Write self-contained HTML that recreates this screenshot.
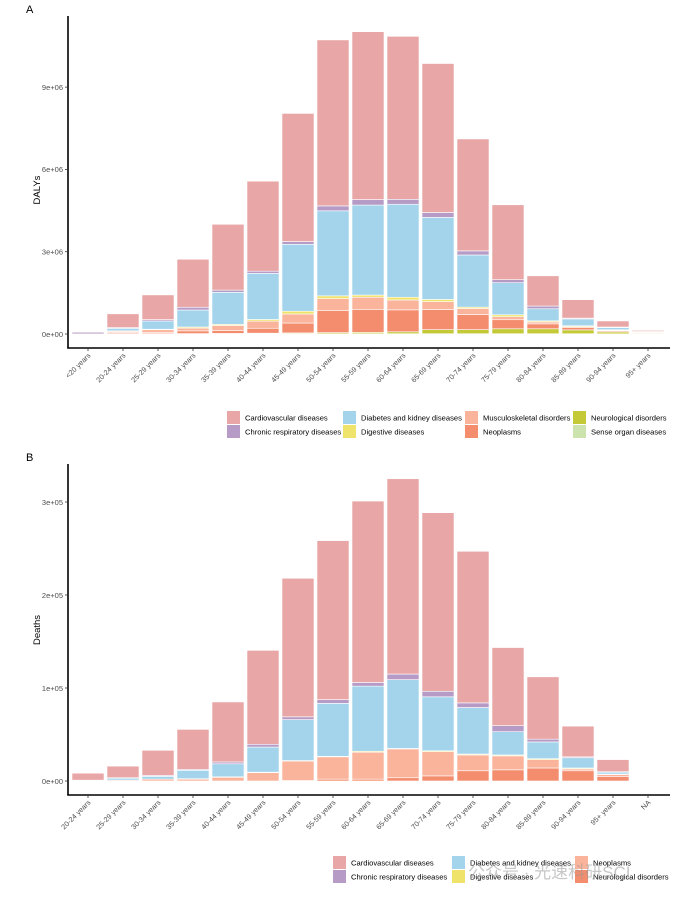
<!DOCTYPE html>
<html><head><meta charset="utf-8"><style>
body{margin:0;background:#fff;width:694px;height:898px;overflow:hidden}
svg{font-family:"Liberation Sans",sans-serif}
</style></head><body>
<svg id="s" width="694" height="898"></svg>
<script>
// ---- Panel A (DALYs, millions) ----
const catsA=["<20 years","20-24 years","25-29 years","30-34 years","35-39 years","40-44 years","45-49 years","50-54 years","55-59 years","60-64 years","65-69 years","70-74 years","75-79 years","80-84 years","85-89 years","90-94 years","95+ years"];
const senseA=[0,0.005,0.005,0.005,0.01,0.01,0.01,0.01,0.01,0.01,0.01,0.01,0.01,0.01,0.01,0.005,0.005];
const neuroA=[0,0.01,0.01,0.01,0.01,0.02,0.03,0.04,0.05,0.07,0.15,0.15,0.18,0.18,0.14,0.07,0.03];
const neoA=[0,0.04,0.04,0.1,0.11,0.18,0.36,0.8,0.84,0.8,0.73,0.55,0.33,0.18,0.08,0.04,0.01];
const muscA=[0,0.04,0.1,0.1,0.18,0.26,0.33,0.44,0.44,0.36,0.29,0.22,0.11,0.07,0.04,0.02,0.01];
const digA=[0,0.02,0.02,0.04,0.04,0.06,0.1,0.1,0.08,0.1,0.08,0.05,0.07,0.04,0.03,0.02,0.005];
const diabA=[0.005,0.09,0.3,0.62,1.17,1.68,2.44,3.1,3.28,3.39,2.99,1.9,1.17,0.44,0.25,0.08,0.02];
const chronA=[0.06,0.03,0.05,0.1,0.08,0.08,0.1,0.18,0.2,0.18,0.18,0.15,0.11,0.1,0.03,0.02,0.01];
const cardA=[0.005,0.5,0.9,1.75,2.4,3.28,4.67,6.05,6.12,5.94,5.43,4.08,2.73,1.1,0.67,0.22,0.04];
const ticksA=[0,3,6,9];
const tickLabA=["0e+00","3e+06","6e+06","9e+06"];
// ---- Panel B (Deaths, 1e5) ----
const catsB=["20-24 years","25-29 years","30-34 years","35-39 years","40-44 years","45-49 years","50-54 years","55-59 years","60-64 years","65-69 years","70-74 years","75-79 years","80-84 years","85-89 years","90-94 years","95+ years","NA"];
const neuroB=[0,0,0,0,0,0,0.005,0.02,0.02,0.035,0.055,0.11,0.12,0.14,0.11,0.05,0];
const neoB=[0.003,0.01,0.02,0.02,0.04,0.09,0.21,0.24,0.29,0.31,0.26,0.17,0.15,0.09,0.02,0.02,0];
const digB=[0,0,0,0.005,0.005,0.005,0.005,0.005,0.01,0.005,0.01,0.01,0.01,0.01,0.01,0.005,0];
const diabB=[0.004,0.02,0.03,0.09,0.14,0.27,0.44,0.57,0.7,0.74,0.58,0.5,0.25,0.18,0.11,0.02,0];
const chronB=[0.002,0.005,0.01,0.01,0.02,0.03,0.03,0.04,0.04,0.06,0.06,0.05,0.065,0.03,0.01,0.005,0];
const cardB=[0.075,0.125,0.27,0.43,0.645,1.01,1.49,1.71,1.95,2.1,1.92,1.63,0.84,0.67,0.33,0.13,0.003];
const ticksB=[0,1,2,3];
const tickLabB=["0e+00","1e+05","2e+05","3e+05"];

const C={card:"#E8A6A6",chron:"#B79BC7",diab:"#A3D4EB",musc:"#FAB49B",dig:"#EFE36C",neo:"#F38D6D",neuro:"#C4C937",sense:"#CDE3AE"};
const NS="http://www.w3.org/2000/svg";
const svg=document.getElementById('s');
function mk(tag,attrs,parent,txt){const e=document.createElementNS(NS,tag);for(const k in attrs)e.setAttribute(k,attrs[k]);if(txt!==undefined)e.textContent=txt;(parent||svg).appendChild(e);return e;}

function panel(o){
  const g=mk('g',{});
  
  
  const y=v=>o.zeroY-v*o.pxPer;
  const x=i=>88+i*35;
  // bars
  o.cats.forEach((c,i)=>{
    let base=0;
    o.series.forEach(s=>{
      const v=s.vals[i];
      if(v<=0)return;
      const r=mk('rect',{x:x(i)-16,y:y(base+v),width:32,height:Math.max(v*o.pxPer,0),fill:s.color,stroke:"#fff","stroke-width":0.6},g);
      
      
      base+=v;
    });
  });
  // axes
  const ya=mk('line',{x1:68,y1:o.top,x2:68,y2:o.bottom,stroke:"#000","stroke-width":1.6},g);
  
  const xa=mk('line',{x1:67.2,y1:o.bottom,x2:670,y2:o.bottom,stroke:"#000","stroke-width":1.6},g);
  
  o.ticks.forEach((t,i)=>{
    mk('line',{x1:65,y1:y(t),x2:68,y2:y(t),stroke:"#333","stroke-width":0.8},g);
    const tl=mk('text',{x:63,y:y(t)+2.8,"font-size":7.5,fill:"#4d4d4d","text-anchor":"end"},g,o.tickLab[i]);
    
  });
  o.cats.forEach((c,i)=>{
    mk('line',{x1:x(i),y1:o.bottom,x2:x(i),y2:o.bottom+3,stroke:"#333","stroke-width":0.8},g);
    const tl=mk('text',{x:0,y:0,"font-size":7.2,fill:"#4d4d4d","text-anchor":"end",transform:`translate(${x(i)+3},${o.bottom+8}) rotate(-45)`},g,c);
    
  });
  const yt=mk('text',{x:0,y:0,"font-size":9.5,fill:"#000","text-anchor":"middle",transform:`translate(40,${o.titleY}) rotate(-90)`},g,o.ytitle);
  
  const pl=mk('text',{x:26,y:o.top-3,"font-size":11,fill:"#000"},g,o.letter);
  
  // legend
  o.legend.forEach(l=>{
    const lg=mk('g',{},g);
    
    
    mk('rect',{x:l[0],y:l[1],width:13,height:13,fill:l[3]},lg);
    mk('text',{x:l[0]+18,y:l[1]+9.5,"font-size":7.6,fill:"#000"},lg,l[2]);
  });
}
panel({name:'dalys-panel',letter:'A',ytitle:'DALYs',cats:catsA,zeroY:334,pxPer:82.3/3,top:16,bottom:348,titleY:190,
  ticks:ticksA,tickLab:tickLabA,
  series:[{key:'sense',vals:senseA,color:C.sense},{key:'neuro',vals:neuroA,color:C.neuro},{key:'neo',vals:neoA,color:C.neo},{key:'musc',vals:muscA,color:C.musc},{key:'dig',vals:digA,color:C.dig},{key:'diab',vals:diabA,color:C.diab},{key:'chron',vals:chronA,color:C.chron},{key:'card',vals:cardA,color:C.card}],
  legend:[[227,411,"Cardiovascular diseases",C.card],[227,425,"Chronic respiratory diseases",C.chron],[343,411,"Diabetes and kidney diseases",C.diab],[343,425,"Digestive diseases",C.dig],[465,411,"Musculoskeletal disorders",C.musc],[465,425,"Neoplasms",C.neo],[573,411,"Neurological disorders",C.neuro],[573,425,"Sense organ diseases",C.sense]]});
panel({name:'deaths-panel',letter:'B',ytitle:'Deaths',cats:catsB,zeroY:781,pxPer:93,top:464,bottom:795,titleY:630,
  ticks:ticksB,tickLab:tickLabB,
  series:[{key:'neuro',vals:neuroB,color:C.neo},{key:'neo',vals:neoB,color:C.musc},{key:'dig',vals:digB,color:C.dig},{key:'diab',vals:diabB,color:C.diab},{key:'chron',vals:chronB,color:C.chron},{key:'card',vals:cardB,color:C.card}],
  legend:[[333,856,"Cardiovascular diseases",C.card],[333,870,"Chronic respiratory diseases",C.chron],[452,856,"Diabetes and kidney diseases",C.diab],[452,870,"Digestive diseases",C.dig],[575,856,"Neoplasms",C.musc],[575,870,"Neurological disorders",C.neo]]});
const wm=mk('text',{x:468,y:878,"font-size":17,fill:"#999","fill-opacity":0.55,"font-family":"'Liberation Sans','Noto Sans CJK SC',sans-serif"},svg,"公众号 · 光速科研SCI");


</script>
</body></html>
